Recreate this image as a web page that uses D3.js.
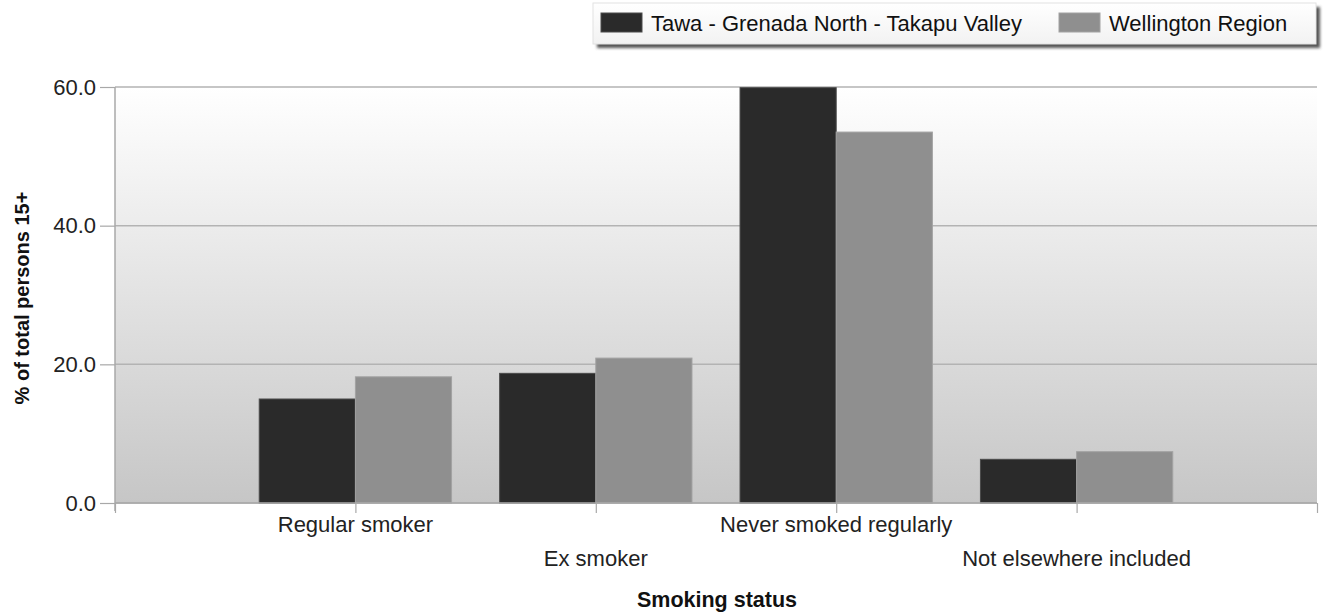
<!DOCTYPE html>
<html>
<head>
<meta charset="utf-8">
<script src="https://cdn.jsdelivr.net/npm/d3@7"></script>
<style>
  html, body { margin: 0; padding: 0; background: #ffffff; }
  svg { display: block; font-family: "Liberation Sans", Arial, sans-serif; }
</style>
</head>
<body>
<svg id="chart" width="1326" height="614"></svg>
<script>
const categories = ["Regular smoker", "Ex smoker", "Never smoked regularly", "Not elsewhere included"];
const seriesNames = ["Tawa - Grenada North - Takapu Valley", "Wellington Region"];
const tawaValues = [15.0, 18.7, 59.9, 6.3];
const wellingtonValues = [18.2, 20.9, 53.5, 7.4];
const yTicks = [0, 20, 40, 60];
const seriesColors = ["#2a2a2a", "#8f8f8f"];
const seriesStrokes = ["#4a4a4a", "#a2a2a2"];

const svg = d3.select("#chart");
const margin = {left: 115, right: 9, top: 87, bottom: 111};
const W = 1326, H = 614;
const plotW = W - margin.left - margin.right;
const plotH = H - margin.top - margin.bottom;

// category positions on a linear axis 0..n+1
const x = d3.scaleLinear().domain([0, categories.length + 1]).range([margin.left, margin.left + plotW]);
const y = d3.scaleLinear().domain([0, 60]).range([margin.top + plotH, margin.top]);
const unit = x(1) - x(0);
const barW = unit * 0.4;

const defs = svg.append("defs");
const grad = defs.append("linearGradient").attr("id", "bg").attr("x1", 0).attr("y1", 0).attr("x2", 0).attr("y2", 1);
grad.append("stop").attr("offset", "0%").attr("stop-color", "#ffffff");
grad.append("stop").attr("offset", "100%").attr("stop-color", "#c6c6c6");
const lgrad = defs.append("linearGradient").attr("id", "lg").attr("x1", 0).attr("y1", 0).attr("x2", 0).attr("y2", 1);
lgrad.append("stop").attr("offset", "0%").attr("stop-color", "#ffffff");
lgrad.append("stop").attr("offset", "100%").attr("stop-color", "#f2f2f2");
const blur = defs.append("filter").attr("id", "shadow").attr("x", "-5%").attr("y", "-30%").attr("width", "115%").attr("height", "180%");
blur.append("feGaussianBlur").attr("stdDeviation", 1.5);

// plot background
svg.append("rect")
  .attr("x", x(0)).attr("y", y(60))
  .attr("width", plotW).attr("height", plotH)
  .attr("fill", "url(#bg)");

// gridlines
svg.append("g").selectAll("line").data(yTicks).join("line")
  .attr("x1", x(0)).attr("x2", x(categories.length + 1))
  .attr("y1", d => y(d)).attr("y2", d => y(d))
  .attr("stroke", "#b3b3b3").attr("stroke-width", 1.5);

// bars
const allSeries = [tawaValues, wellingtonValues];
allSeries.forEach((vals, si) => {
  svg.append("g").selectAll("rect").data(vals).join("rect")
    .attr("x", (d, i) => x(i + 1) - barW + si * barW)
    .attr("y", d => y(d))
    .attr("width", barW)
    .attr("height", d => y(0) - y(d))
    .attr("fill", seriesColors[si])
    .attr("stroke", seriesStrokes[si])
    .attr("stroke-width", 1);
});

// y axis
const yAxis = d3.axisLeft(y).tickValues(yTicks).tickFormat(d3.format(".1f")).tickSize(15).tickPadding(4);
const yg = svg.append("g").attr("transform", `translate(${x(0)},0)`).call(yAxis);
yg.select(".domain").attr("stroke", "#a8a8a8").attr("stroke-width", 1.5).attr("d", `M0,${y(60)}V${y(0) + 8}`);
yg.selectAll(".tick line").attr("stroke", "#a8a8a8").attr("stroke-width", 1.2);
yg.selectAll(".tick text").attr("font-size", 22).attr("fill", "#222").attr("font-family", "Liberation Sans, Arial, sans-serif");

// x axis
const xTickVals = d3.range(0, categories.length + 2);
const xAxis = d3.axisBottom(x).tickValues(xTickVals).tickSize(10).tickFormat("");
const xg = svg.append("g").attr("transform", `translate(0,${y(0)})`).call(xAxis);
xg.select(".domain").attr("stroke", "#a8a8a8").attr("stroke-width", 1.5).attr("d", `M${x(0)},0H${x(categories.length + 1)}`);
xg.selectAll(".tick line").attr("stroke", "#a8a8a8").attr("stroke-width", 1.2);

// category labels (staggered)
svg.append("g").selectAll("text").data(categories).join("text")
  .attr("x", (d, i) => x(i + 1))
  .attr("y", (d, i) => y(0) + (i % 2 === 0 ? 29 : 63))
  .attr("text-anchor", "middle")
  .attr("font-size", 22)
  .attr("fill", "#222")
  .text(d => d);

// axis titles
svg.append("text")
  .attr("x", x(0) + plotW / 2 + 1).attr("y", 607)
  .attr("text-anchor", "middle").attr("font-weight", "bold").attr("font-size", 21.5)
  .attr("fill", "#111").text("Smoking status");
svg.append("text")
  .attr("transform", `translate(29,298) rotate(-90)`)
  .attr("text-anchor", "middle").attr("font-weight", "bold").attr("font-size", 20)
  .attr("fill", "#111").text("% of total persons 15+");

// legend
const lg = svg.append("g");
lg.append("rect").attr("x", 597).attr("y", 7).attr("width", 723).attr("height", 41)
  .attr("fill", "#555").attr("filter", "url(#shadow)");
lg.append("rect").attr("x", 593).attr("y", 3).attr("width", 723).attr("height", 41)
  .attr("fill", "url(#lg)").attr("stroke", "#e2e2e2").attr("stroke-width", 1);
const legendX = [601, 1059];
seriesNames.forEach((name, i) => {
  lg.append("rect").attr("x", legendX[i]).attr("y", 13).attr("width", 41).attr("height", 19)
    .attr("fill", seriesColors[i]).attr("stroke", seriesStrokes[i]).attr("stroke-width", 1);
  lg.append("text").attr("x", legendX[i] + 50).attr("y", 31)
    .attr("font-size", 22).attr("fill", "#111").text(name);
});
</script>
</body>
</html>
